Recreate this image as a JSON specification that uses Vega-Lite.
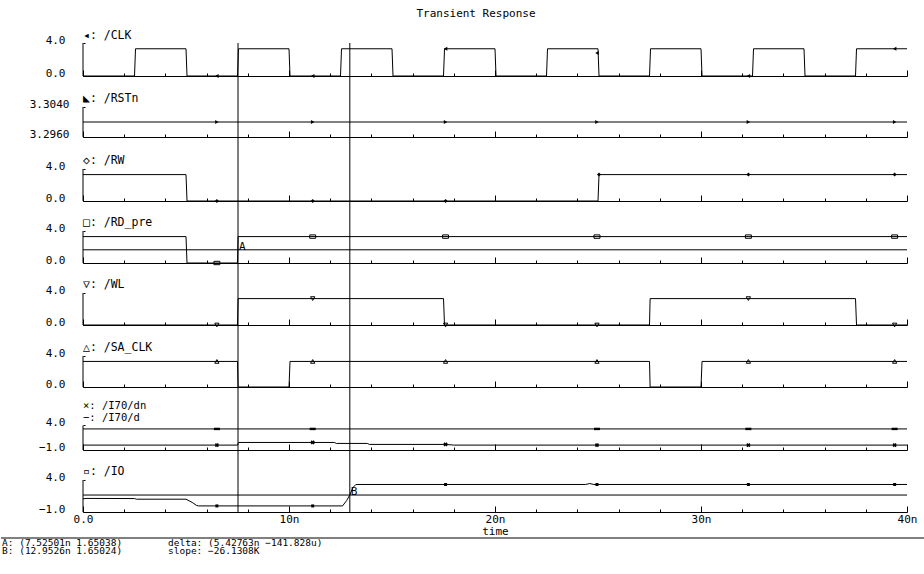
{
 "$schema": "https://vega.github.io/schema/vega-lite/v6.json",
 "padding": {"left": 0, "top": 8, "right": 0, "bottom": 0},
 "background": "white",
 "title": {"text": "Transient Response", "font": "DejaVu Sans Mono", "fontSize": 11, "fontWeight": "normal", "color": "black", "anchor": "middle", "frame": "group", "dx": -19, "offset": 11},
 "config": {
  "view": {"stroke": null},
  "axis": {"domainColor": "black", "tickColor": "black", "labelColor": "black", "labelFont": "DejaVu Sans Mono", "labelFontSize": 11, "grid": false, "tickWidth": 1, "domainWidth": 1, "titleFont": "DejaVu Sans Mono", "titleFontSize": 11, "titleFontWeight": "normal", "titleColor": "black"}
 },
 "datasets": {
  "waves": [
   {"s":"CLK","t":0,"v":0},{"s":"CLK","t":2.5,"v":0},{"s":"CLK","t":2.55,"v":3.3},{"s":"CLK","t":5,"v":3.3},{"s":"CLK","t":5.05,"v":0},
   {"s":"CLK","t":7.5,"v":0},{"s":"CLK","t":7.55,"v":3.3},{"s":"CLK","t":10,"v":3.3},{"s":"CLK","t":10.05,"v":0},
   {"s":"CLK","t":12.5,"v":0},{"s":"CLK","t":12.55,"v":3.3},{"s":"CLK","t":15,"v":3.3},{"s":"CLK","t":15.05,"v":0},
   {"s":"CLK","t":17.5,"v":0},{"s":"CLK","t":17.55,"v":3.3},{"s":"CLK","t":20,"v":3.3},{"s":"CLK","t":20.05,"v":0},
   {"s":"CLK","t":22.5,"v":0},{"s":"CLK","t":22.55,"v":3.3},{"s":"CLK","t":25,"v":3.3},{"s":"CLK","t":25.05,"v":0},
   {"s":"CLK","t":27.5,"v":0},{"s":"CLK","t":27.55,"v":3.3},{"s":"CLK","t":30,"v":3.3},{"s":"CLK","t":30.05,"v":0},
   {"s":"CLK","t":32.5,"v":0},{"s":"CLK","t":32.55,"v":3.3},{"s":"CLK","t":35,"v":3.3},{"s":"CLK","t":35.05,"v":0},
   {"s":"CLK","t":37.5,"v":0},{"s":"CLK","t":37.55,"v":3.3},{"s":"CLK","t":40,"v":3.3},
   {"s":"RSTn","t":0,"v":3.3},{"s":"RSTn","t":40,"v":3.3},
   {"s":"RW","t":0,"v":3.3},{"s":"RW","t":5,"v":3.3},{"s":"RW","t":5.05,"v":0},{"s":"RW","t":25,"v":0},{"s":"RW","t":25.05,"v":3.3},{"s":"RW","t":40,"v":3.3},
   {"s":"RD_pre","t":0,"v":3.3},{"s":"RD_pre","t":5,"v":3.3},{"s":"RD_pre","t":5.05,"v":0},{"s":"RD_pre","t":7.5,"v":0},{"s":"RD_pre","t":7.53,"v":3.3},{"s":"RD_pre","t":40,"v":3.3},
   {"s":"WL","t":0,"v":0},{"s":"WL","t":7.5,"v":0},{"s":"WL","t":7.53,"v":3.3},{"s":"WL","t":17.5,"v":3.3},{"s":"WL","t":17.55,"v":0},{"s":"WL","t":27.5,"v":0},{"s":"WL","t":27.53,"v":3.3},{"s":"WL","t":37.5,"v":3.3},{"s":"WL","t":37.55,"v":0},{"s":"WL","t":40,"v":0},
   {"s":"SA_CLK","t":0,"v":3.3},{"s":"SA_CLK","t":7.5,"v":3.3},{"s":"SA_CLK","t":7.53,"v":0},{"s":"SA_CLK","t":10,"v":0},{"s":"SA_CLK","t":10.05,"v":3.3},{"s":"SA_CLK","t":27.5,"v":3.3},{"s":"SA_CLK","t":27.53,"v":0},{"s":"SA_CLK","t":30,"v":0},{"s":"SA_CLK","t":30.05,"v":3.3},{"s":"SA_CLK","t":40,"v":3.3},
   {"s":"d","t":0,"v":3.3},{"s":"d","t":40,"v":3.3},
   {"s":"dn","t":0,"v":0},{"s":"dn","t":7.5,"v":0},{"s":"dn","t":7.55,"v":0.54},{"s":"dn","t":12.2,"v":0.54},{"s":"dn","t":12.3,"v":0.34},{"s":"dn","t":13.8,"v":0.34},{"s":"dn","t":13.9,"v":0.14},{"s":"dn","t":17.6,"v":0.14},{"s":"dn","t":18,"v":0},{"s":"dn","t":40,"v":0},
   {"s":"IO","t":0,"v":1.05},{"s":"IO","t":0.15,"v":1.12},{"s":"IO","t":2.5,"v":1.1},{"s":"IO","t":2.6,"v":1.0},{"s":"IO","t":5.0,"v":1.0},{"s":"IO","t":5.3,"v":0.5},{"s":"IO","t":5.5,"v":0.05},{"s":"IO","t":5.6,"v":-0.05},{"s":"IO","t":12.6,"v":-0.05},{"s":"IO","t":12.8,"v":0.8},{"s":"IO","t":12.95,"v":1.65},{"s":"IO","t":13.1,"v":2.8},{"s":"IO","t":13.25,"v":3.3},{"s":"IO","t":24.4,"v":3.3},{"s":"IO","t":24.6,"v":3.45},{"s":"IO","t":24.8,"v":3.3},{"s":"IO","t":40,"v":3.3}
  ],
  "marks": [
   {"s":"CLK","t":6.5,"v":0},{"s":"CLK","t":11.15,"v":0},{"s":"CLK","t":17.6,"v":3.3},{"s":"CLK","t":24.95,"v":2.8},{"s":"CLK","t":32.3,"v":0},{"s":"CLK","t":39.4,"v":3.3},
   {"s":"RSTn","t":6.5,"v":3.3},{"s":"RSTn","t":11.15,"v":3.3},{"s":"RSTn","t":17.6,"v":3.3},{"s":"RSTn","t":24.95,"v":3.3},{"s":"RSTn","t":32.3,"v":3.3},{"s":"RSTn","t":39.4,"v":3.3},
   {"s":"RW","t":6.5,"v":0},{"s":"RW","t":11.15,"v":0},{"s":"RW","t":17.6,"v":0},{"s":"RW","t":25.05,"v":3.3},{"s":"RW","t":32.3,"v":3.3},{"s":"RW","t":39.4,"v":3.3},
   {"s":"RD_pre","t":6.5,"v":0},{"s":"RD_pre","t":11.15,"v":3.3},{"s":"RD_pre","t":17.6,"v":3.3},{"s":"RD_pre","t":24.95,"v":3.3},{"s":"RD_pre","t":32.3,"v":3.3},{"s":"RD_pre","t":39.4,"v":3.3},
   {"s":"WL","t":6.5,"v":0},{"s":"WL","t":11.15,"v":3.3},{"s":"WL","t":17.6,"v":0},{"s":"WL","t":24.95,"v":0},{"s":"WL","t":32.3,"v":3.3},{"s":"WL","t":39.4,"v":0},
   {"s":"SA_CLK","t":6.5,"v":3.3},{"s":"SA_CLK","t":11.15,"v":3.3},{"s":"SA_CLK","t":17.6,"v":3.3},{"s":"SA_CLK","t":24.95,"v":3.3},{"s":"SA_CLK","t":32.3,"v":3.3},{"s":"SA_CLK","t":39.4,"v":3.3},
   {"s":"d","t":6.5,"v":3.3},{"s":"d","t":11.15,"v":3.3},{"s":"d","t":24.95,"v":3.3},{"s":"d","t":32.3,"v":3.3},{"s":"d","t":39.4,"v":3.3},
   {"s":"dn","t":6.5,"v":0},{"s":"dn","t":11.15,"v":0.54},{"s":"dn","t":17.6,"v":0.14},{"s":"dn","t":24.95,"v":0},{"s":"dn","t":32.3,"v":0},{"s":"dn","t":39.4,"v":0},
   {"s":"IO","t":6.5,"v":-0.05},{"s":"IO","t":11.15,"v":-0.05},{"s":"IO","t":17.6,"v":3.3},{"s":"IO","t":24.95,"v":3.3},{"s":"IO","t":32.3,"v":3.3},{"s":"IO","t":39.4,"v":3.3}
  ],
  "cursors": [{"c":"A","t":7.52501,"v":1.65038},{"c":"B","t":12.9526,"v":1.65024}],
  "names": [
   {"s":"CLK","name":"◂: /CLK"},{"s":"RSTn","name":"◣: /RSTn"},{"s":"RW","name":"◇: /RW"},{"s":"RD_pre","name":"□: /RD_pre"},
   {"s":"WL","name":"▽: /WL"},{"s":"SA_CLK","name":"△: /SA_CLK"},{"s":"dn","name":"×: /I70/dn"},{"s":"d","name":"−: /I70/d"},{"s":"IO","name":"▫: /IO"}
  ],
  "info": [
   {"line":"sep","col":"none","text":""},
   {"line":"A","col":"left","text":"A: (7.52501n 1.65038)"},
   {"line":"B","col":"left","text":"B: (12.9526n 1.65024)"},
   {"line":"A","col":"right","text":"delta: (5.42763n −141.828u)"},
   {"line":"B","col":"right","text":"slope: −26.1308K"}
  ]
 },
 "spacing": 0,
 "bounds": "flush",
 "resolve": {"scale": {"x": "independent", "y": "independent"}},
 "vconcat": [
  {"width": 824, "height": 33, "layer": [
   {"data": {"name": "cursors"}, "mark": {"type": "rule", "color": "black"}, "encoding": {"x": {"field": "t", "type": "quantitative", "scale": {"domain": [0, 40], "nice": false, "zero": false}, "axis": {"values": [0,1,2,3,4,5,6,7,8,9,10,11,12,13,14,15,16,17,18,19,20,21,22,23,24,25,26,27,28,29,30,31,32,33,34,35,36,37,38,39,40], "labels": false, "title": null, "tickSize": {"condition": {"test": "datum.value % 10 === 0", "value": -6}, "value": -3}}}}},
   {"data": {"name": "waves"}, "transform": [{"filter": "datum.s == 'CLK'"}], "mark": {"type": "line", "color": "black", "strokeWidth": 1}, "encoding": {"x": {"field": "t", "type": "quantitative"}, "y": {"field": "v", "type": "quantitative", "scale": {"domain": [0, 4], "nice": false, "zero": false}, "axis": {"values": [0,0.5,1,1.5,2,2.5,3,3.5,4], "domain": false, "tickSize": -2, "labelExpr": "datum.value == 4 ? '4.0' : datum.value == 0 ? '0.0' : ''", "labelBaseline": "alphabetic", "labelPadding": 20, "labelOverlap": false, "labelFlush": false, "title": null}}}},
   {"data": {"values": [{}]}, "mark": {"type": "rule", "color": "black"}, "encoding": {"x": {"datum": 0}, "y": {"datum": 0}, "y2": {"datum": 4}}},
   {"data": {"name": "marks"}, "transform": [{"filter": "datum.s == 'CLK'"}], "mark": {"type": "point", "shape": "triangle-left", "filled": true, "color": "black", "size": 16, "opacity": 1}, "encoding": {"x": {"field": "t", "type": "quantitative"}, "y": {"field": "v", "type": "quantitative"}}},
   {"data": {"name": "names"}, "transform": [{"filter": "datum.s == 'CLK'"}], "mark": {"type": "text", "align": "left", "baseline": "alphabetic", "dy": -4, "font": "DejaVu Sans Mono", "fontSize": 11.5, "color": "black"}, "encoding": {"x": {"datum": 0}, "y": {"datum": 4}, "text": {"field": "name"}}}
  ]},
  {"width": 824, "height": 61, "layer": [
   {"data": {"name": "cursors"}, "mark": {"type": "rule", "color": "black"}, "encoding": {"x": {"field": "t", "type": "quantitative", "scale": {"domain": [0, 40], "nice": false, "zero": false}, "axis": {"values": [0,1,2,3,4,5,6,7,8,9,10,11,12,13,14,15,16,17,18,19,20,21,22,23,24,25,26,27,28,29,30,31,32,33,34,35,36,37,38,39,40], "labels": false, "title": null, "tickSize": {"condition": {"test": "datum.value % 10 === 0", "value": -6}, "value": -3}}}}},
   {"data": {"name": "waves"}, "transform": [{"filter": "datum.s == 'RSTn'"}], "mark": {"type": "line", "color": "black", "strokeWidth": 1}, "encoding": {"x": {"field": "t", "type": "quantitative"}, "y": {"field": "v", "type": "quantitative", "scale": {"domain": [3.296, 3.3122667], "nice": false, "zero": false}, "axis": {"values": [3.296,3.297,3.298,3.299,3.3,3.301,3.302,3.303,3.304], "domain": false, "tickSize": -2, "labelExpr": "datum.value > 3.3035 ? '3.3040' : datum.value < 3.2965 ? '3.2960' : ''", "labelBaseline": "alphabetic", "labelPadding": 16, "labelOverlap": false, "labelFlush": false, "title": null}}}},
   {"data": {"values": [{}]}, "mark": {"type": "rule", "color": "black"}, "encoding": {"x": {"datum": 0}, "y": {"datum": 3.296}, "y2": {"datum": 3.304}}},
   {"data": {"name": "marks"}, "transform": [{"filter": "datum.s == 'RSTn'"}], "mark": {"type": "point", "shape": "triangle-right", "filled": true, "color": "black", "size": 16, "opacity": 1}, "encoding": {"x": {"field": "t", "type": "quantitative"}, "y": {"field": "v", "type": "quantitative"}}},
   {"data": {"name": "names"}, "transform": [{"filter": "datum.s == 'RSTn'"}], "mark": {"type": "text", "align": "left", "baseline": "alphabetic", "dy": -5, "font": "DejaVu Sans Mono", "fontSize": 11.5, "color": "black"}, "encoding": {"x": {"datum": 0}, "y": {"datum": 3.304}, "text": {"field": "name"}}}
  ]},
  {"width": 824, "height": 64, "layer": [
   {"data": {"name": "cursors"}, "mark": {"type": "rule", "color": "black"}, "encoding": {"x": {"field": "t", "type": "quantitative", "scale": {"domain": [0, 40], "nice": false, "zero": false}, "axis": {"values": [0,1,2,3,4,5,6,7,8,9,10,11,12,13,14,15,16,17,18,19,20,21,22,23,24,25,26,27,28,29,30,31,32,33,34,35,36,37,38,39,40], "labels": false, "title": null, "tickSize": {"condition": {"test": "datum.value % 10 === 0", "value": -6}, "value": -3}}}}},
   {"data": {"name": "waves"}, "transform": [{"filter": "datum.s == 'RW'"}], "mark": {"type": "line", "color": "black", "strokeWidth": 1}, "encoding": {"x": {"field": "t", "type": "quantitative"}, "y": {"field": "v", "type": "quantitative", "scale": {"domain": [0, 8], "nice": false, "zero": false}, "axis": {"values": [0,0.5,1,1.5,2,2.5,3,3.5,4], "domain": false, "tickSize": -2, "labelExpr": "datum.value == 4 ? '4.0' : datum.value == 0 ? '0.0' : ''", "labelBaseline": "alphabetic", "labelPadding": 20, "labelOverlap": false, "labelFlush": false, "title": null}}}},
   {"data": {"values": [{}]}, "mark": {"type": "rule", "color": "black"}, "encoding": {"x": {"datum": 0}, "y": {"datum": 0}, "y2": {"datum": 4}}},
   {"data": {"name": "marks"}, "transform": [{"filter": "datum.s == 'RW'"}], "mark": {"type": "point", "shape": "diamond", "filled": true, "color": "black", "size": 16, "opacity": 1}, "encoding": {"x": {"field": "t", "type": "quantitative"}, "y": {"field": "v", "type": "quantitative"}}},
   {"data": {"name": "names"}, "transform": [{"filter": "datum.s == 'RW'"}], "mark": {"type": "text", "align": "left", "baseline": "alphabetic", "dy": -5, "font": "DejaVu Sans Mono", "fontSize": 11.5, "color": "black"}, "encoding": {"x": {"datum": 0}, "y": {"datum": 4}, "text": {"field": "name"}}}
  ]},
  {"width": 824, "height": 62, "layer": [
   {"data": {"name": "cursors"}, "mark": {"type": "rule", "color": "black"}, "encoding": {"x": {"field": "t", "type": "quantitative", "scale": {"domain": [0, 40], "nice": false, "zero": false}, "axis": {"values": [0,1,2,3,4,5,6,7,8,9,10,11,12,13,14,15,16,17,18,19,20,21,22,23,24,25,26,27,28,29,30,31,32,33,34,35,36,37,38,39,40], "labels": false, "title": null, "tickSize": {"condition": {"test": "datum.value % 10 === 0", "value": -6}, "value": -3}}}}},
   {"data": {"name": "waves"}, "transform": [{"filter": "datum.s == 'RD_pre'"}], "mark": {"type": "line", "color": "black", "strokeWidth": 1}, "encoding": {"x": {"field": "t", "type": "quantitative"}, "y": {"field": "v", "type": "quantitative", "scale": {"domain": [0, 7.75], "nice": false, "zero": false}, "axis": {"values": [0,0.5,1,1.5,2,2.5,3,3.5,4], "domain": false, "tickSize": -2, "labelExpr": "datum.value == 4 ? '4.0' : datum.value == 0 ? '0.0' : ''", "labelBaseline": "alphabetic", "labelPadding": 20, "labelOverlap": false, "labelFlush": false, "title": null}}}},
   {"data": {"values": [{}]}, "mark": {"type": "rule", "color": "black"}, "encoding": {"x": {"datum": 0}, "y": {"datum": 0}, "y2": {"datum": 4}}},
   {"data": {"name": "cursors"}, "transform": [{"filter": "datum.c == 'A'"}], "mark": {"type": "rule", "color": "black"}, "encoding": {"y": {"field": "v", "type": "quantitative"}}},
   {"data": {"name": "cursors"}, "transform": [{"filter": "datum.c == 'A'"}], "mark": {"type": "text", "align": "left", "baseline": "alphabetic", "dx": 1, "font": "DejaVu Sans Mono", "fontSize": 11, "color": "black"}, "encoding": {"x": {"field": "t", "type": "quantitative"}, "y": {"field": "v", "type": "quantitative"}, "text": {"field": "c"}}},
   {"data": {"name": "marks"}, "transform": [{"filter": "datum.s == 'RD_pre'"}], "mark": {"type": "point", "shape": "M-1.4,-0.8L1.4,-0.8L1.4,0.8L-1.4,0.8Z", "filled": false, "color": "black", "size": 18, "opacity": 1, "strokeWidth": 1}, "encoding": {"x": {"field": "t", "type": "quantitative"}, "y": {"field": "v", "type": "quantitative"}}},
   {"data": {"name": "names"}, "transform": [{"filter": "datum.s == 'RD_pre'"}], "mark": {"type": "text", "align": "left", "baseline": "alphabetic", "dy": -5, "font": "DejaVu Sans Mono", "fontSize": 11.5, "color": "black"}, "encoding": {"x": {"datum": 0}, "y": {"datum": 4}, "text": {"field": "name"}}}
  ]},
  {"width": 824, "height": 62, "layer": [
   {"data": {"name": "cursors"}, "mark": {"type": "rule", "color": "black"}, "encoding": {"x": {"field": "t", "type": "quantitative", "scale": {"domain": [0, 40], "nice": false, "zero": false}, "axis": {"values": [0,1,2,3,4,5,6,7,8,9,10,11,12,13,14,15,16,17,18,19,20,21,22,23,24,25,26,27,28,29,30,31,32,33,34,35,36,37,38,39,40], "labels": false, "title": null, "tickSize": {"condition": {"test": "datum.value % 10 === 0", "value": -6}, "value": -3}}}}},
   {"data": {"name": "waves"}, "transform": [{"filter": "datum.s == 'WL'"}], "mark": {"type": "line", "color": "black", "strokeWidth": 1}, "encoding": {"x": {"field": "t", "type": "quantitative"}, "y": {"field": "v", "type": "quantitative", "scale": {"domain": [0, 7.75], "nice": false, "zero": false}, "axis": {"values": [0,0.5,1,1.5,2,2.5,3,3.5,4], "domain": false, "tickSize": -2, "labelExpr": "datum.value == 4 ? '4.0' : datum.value == 0 ? '0.0' : ''", "labelBaseline": "alphabetic", "labelPadding": 20, "labelOverlap": false, "labelFlush": false, "title": null}}}},
   {"data": {"values": [{}]}, "mark": {"type": "rule", "color": "black"}, "encoding": {"x": {"datum": 0}, "y": {"datum": 0}, "y2": {"datum": 4}}},
   {"data": {"name": "marks"}, "transform": [{"filter": "datum.s == 'WL'"}], "mark": {"type": "point", "shape": "triangle-down", "filled": false, "color": "black", "size": 18, "opacity": 1, "strokeWidth": 1}, "encoding": {"x": {"field": "t", "type": "quantitative"}, "y": {"field": "v", "type": "quantitative"}}},
   {"data": {"name": "names"}, "transform": [{"filter": "datum.s == 'WL'"}], "mark": {"type": "text", "align": "left", "baseline": "alphabetic", "dy": -5, "font": "DejaVu Sans Mono", "fontSize": 11.5, "color": "black"}, "encoding": {"x": {"datum": 0}, "y": {"datum": 4}, "text": {"field": "name"}}}
  ]},
  {"width": 824, "height": 62, "layer": [
   {"data": {"name": "cursors"}, "mark": {"type": "rule", "color": "black"}, "encoding": {"x": {"field": "t", "type": "quantitative", "scale": {"domain": [0, 40], "nice": false, "zero": false}, "axis": {"values": [0,1,2,3,4,5,6,7,8,9,10,11,12,13,14,15,16,17,18,19,20,21,22,23,24,25,26,27,28,29,30,31,32,33,34,35,36,37,38,39,40], "labels": false, "title": null, "tickSize": {"condition": {"test": "datum.value % 10 === 0", "value": -6}, "value": -3}}}}},
   {"data": {"name": "waves"}, "transform": [{"filter": "datum.s == 'SA_CLK'"}], "mark": {"type": "line", "color": "black", "strokeWidth": 1}, "encoding": {"x": {"field": "t", "type": "quantitative"}, "y": {"field": "v", "type": "quantitative", "scale": {"domain": [0, 8], "nice": false, "zero": false}, "axis": {"values": [0,0.5,1,1.5,2,2.5,3,3.5,4], "domain": false, "tickSize": -2, "labelExpr": "datum.value == 4 ? '4.0' : datum.value == 0 ? '0.0' : ''", "labelBaseline": "alphabetic", "labelPadding": 20, "labelOverlap": false, "labelFlush": false, "title": null}}}},
   {"data": {"values": [{}]}, "mark": {"type": "rule", "color": "black"}, "encoding": {"x": {"datum": 0}, "y": {"datum": 0}, "y2": {"datum": 4}}},
   {"data": {"name": "marks"}, "transform": [{"filter": "datum.s == 'SA_CLK'"}], "mark": {"type": "point", "shape": "triangle-up", "filled": false, "color": "black", "size": 18, "opacity": 1, "strokeWidth": 1}, "encoding": {"x": {"field": "t", "type": "quantitative"}, "y": {"field": "v", "type": "quantitative"}}},
   {"data": {"name": "names"}, "transform": [{"filter": "datum.s == 'SA_CLK'"}], "mark": {"type": "text", "align": "left", "baseline": "alphabetic", "dy": -5, "font": "DejaVu Sans Mono", "fontSize": 11.5, "color": "black"}, "encoding": {"x": {"datum": 0}, "y": {"datum": 4}, "text": {"field": "name"}}}
  ]},
  {"width": 824, "height": 63, "layer": [
   {"data": {"name": "cursors"}, "mark": {"type": "rule", "color": "black"}, "encoding": {"x": {"field": "t", "type": "quantitative", "scale": {"domain": [0, 40], "nice": false, "zero": false}, "axis": {"values": [0,1,2,3,4,5,6,7,8,9,10,11,12,13,14,15,16,17,18,19,20,21,22,23,24,25,26,27,28,29,30,31,32,33,34,35,36,37,38,39,40], "labels": false, "title": null, "tickSize": {"condition": {"test": "datum.value % 10 === 0", "value": -6}, "value": -3}}}}},
   {"data": {"name": "waves"}, "transform": [{"filter": "datum.s == 'd' || datum.s == 'dn'"}], "mark": {"type": "line", "color": "black", "strokeWidth": 1}, "encoding": {"detail": {"field": "s"}, "x": {"field": "t", "type": "quantitative"}, "y": {"field": "v", "type": "quantitative", "scale": {"domain": [-1, 11.857], "nice": false, "zero": false}, "axis": {"values": [-1,0,1,2,3,4], "domain": false, "tickSize": -2, "labelExpr": "datum.value == 4 ? '4.0' : datum.value == -1 ? '−1.0' : ''", "labelBaseline": "alphabetic", "labelPadding": 20, "labelOverlap": false, "labelFlush": false, "title": null}}}},
   {"data": {"values": [{}]}, "mark": {"type": "rule", "color": "black"}, "encoding": {"x": {"datum": 0}, "y": {"datum": -1}, "y2": {"datum": 4}}},
   {"data": {"name": "marks"}, "transform": [{"filter": "datum.s == 'dn'"}], "mark": {"type": "point", "shape": "cross", "angle": 45, "filled": true, "color": "black", "size": 18, "opacity": 1}, "encoding": {"x": {"field": "t", "type": "quantitative"}, "y": {"field": "v", "type": "quantitative"}}},
   {"data": {"name": "marks"}, "transform": [{"filter": "datum.s == 'd'"}], "mark": {"type": "point", "shape": "M-1.5,-0.6L1.5,-0.6L1.5,0.6L-1.5,0.6Z", "filled": true, "color": "black", "size": 16, "opacity": 1}, "encoding": {"x": {"field": "t", "type": "quantitative"}, "y": {"field": "v", "type": "quantitative"}}},
   {"data": {"name": "names"}, "transform": [{"filter": "datum.s == 'dn'"}], "mark": {"type": "text", "align": "left", "baseline": "alphabetic", "dy": -16.5, "font": "DejaVu Sans Mono", "fontSize": 10.5, "color": "black"}, "encoding": {"x": {"datum": 0}, "y": {"datum": 4}, "text": {"field": "name"}}},
   {"data": {"name": "names"}, "transform": [{"filter": "datum.s == 'd'"}], "mark": {"type": "text", "align": "left", "baseline": "alphabetic", "dy": -4.5, "font": "DejaVu Sans Mono", "fontSize": 10.5, "color": "black"}, "encoding": {"x": {"datum": 0}, "y": {"datum": 4}, "text": {"field": "name"}}}
  ]},
  {"width": 824, "height": 62, "layer": [
   {"data": {"name": "cursors"}, "mark": {"type": "rule", "color": "black"}, "encoding": {"x": {"field": "t", "type": "quantitative", "scale": {"domain": [0, 40], "nice": false, "zero": false}, "axis": {"values": [0,1,2,3,4,5,6,7,8,9,10,11,12,13,14,15,16,17,18,19,20,21,22,23,24,25,26,27,28,29,30,31,32,33,34,35,36,37,38,39,40], "labels": true, "labelExpr": "datum.value % 10 === 0 ? (datum.value === 0 ? '0.0' : datum.value + 'n') : ''", "labelBaseline": "top", "labelPadding": 7, "labelFlush": false, "labelOverlap": false, "title": "time", "titlePadding": -2, "tickSize": {"condition": {"test": "datum.value % 10 === 0", "value": -6}, "value": -3}}}}},
   {"data": {"name": "waves"}, "transform": [{"filter": "datum.s == 'IO'"}], "mark": {"type": "line", "color": "black", "strokeWidth": 1}, "encoding": {"x": {"field": "t", "type": "quantitative"}, "y": {"field": "v", "type": "quantitative", "scale": {"domain": [-1, 8.6875], "nice": false, "zero": false}, "axis": {"values": [-1,0,1,2,3,4], "domain": false, "tickSize": -2, "labelExpr": "datum.value == 4 ? '4.0' : datum.value == -1 ? '−1.0' : ''", "labelBaseline": "alphabetic", "labelPadding": 20, "labelOverlap": false, "labelFlush": false, "title": null}}}},
   {"data": {"values": [{}]}, "mark": {"type": "rule", "color": "black"}, "encoding": {"x": {"datum": 0}, "y": {"datum": -1}, "y2": {"datum": 4}}},
   {"data": {"name": "cursors"}, "transform": [{"filter": "datum.c == 'B'"}], "mark": {"type": "rule", "color": "black"}, "encoding": {"y": {"field": "v", "type": "quantitative"}}},
   {"data": {"name": "cursors"}, "transform": [{"filter": "datum.c == 'B'"}], "mark": {"type": "text", "align": "left", "baseline": "alphabetic", "dx": 1, "font": "DejaVu Sans Mono", "fontSize": 11, "color": "black"}, "encoding": {"x": {"field": "t", "type": "quantitative"}, "y": {"field": "v", "type": "quantitative"}, "text": {"field": "c"}}},
   {"data": {"name": "marks"}, "transform": [{"filter": "datum.s == 'IO'"}], "mark": {"type": "point", "shape": "square", "filled": true, "color": "black", "size": 9, "opacity": 1}, "encoding": {"x": {"field": "t", "type": "quantitative"}, "y": {"field": "v", "type": "quantitative"}}},
   {"data": {"name": "names"}, "transform": [{"filter": "datum.s == 'IO'"}], "mark": {"type": "text", "align": "left", "baseline": "alphabetic", "dy": -5, "font": "DejaVu Sans Mono", "fontSize": 11.5, "color": "black"}, "encoding": {"x": {"datum": 0}, "y": {"datum": 4}, "text": {"field": "name"}}}
  ]},
  {"width": 824, "height": 46, "data": {"name": "info"}, "layer": [
   {"transform": [{"filter": "datum.line == 'sep'"}], "mark": {"type": "rule", "color": "black"}, "encoding": {"x": {"datum": -3.98, "type": "quantitative", "scale": {"domain": [0, 40], "nice": false, "zero": false}, "axis": null}, "x2": {"datum": 40.9}, "y": {"field": "line", "type": "nominal", "scale": {"type": "point", "domain": ["sep", "A", "B"], "range": [26, 42], "padding": 0}, "axis": null}}},
   {"transform": [{"filter": "datum.col == 'left'"}], "mark": {"type": "text", "align": "left", "baseline": "alphabetic", "dx": -81, "font": "DejaVu Sans Mono", "fontSize": 9.5, "color": "black"}, "encoding": {"x": {"datum": 0, "type": "quantitative"}, "y": {"field": "line", "type": "nominal"}, "text": {"field": "text"}}},
   {"transform": [{"filter": "datum.col == 'right'"}], "mark": {"type": "text", "align": "left", "baseline": "alphabetic", "dx": 85, "font": "DejaVu Sans Mono", "fontSize": 9.5, "color": "black"}, "encoding": {"x": {"datum": 0, "type": "quantitative"}, "y": {"field": "line", "type": "nominal"}, "text": {"field": "text"}}}
  ]}
 ]
}
